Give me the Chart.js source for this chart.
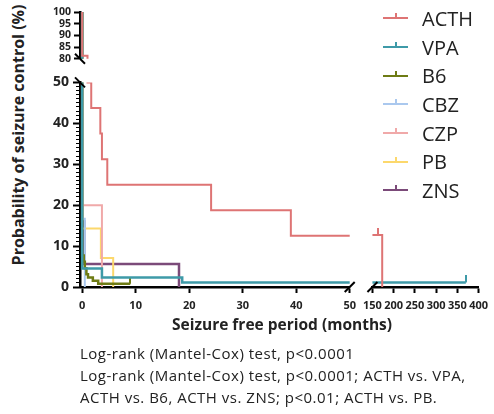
<!DOCTYPE html>
<html>
<head>
<meta charset="utf-8">
<script src="https://cdn.jsdelivr.net/npm/chart.js@4.4.1/dist/chart.umd.min.js"></script>
<style>
  html, body { margin: 0; padding: 0; background: #fff; }
  #wrap { position: relative; width: 494px; height: 414px; overflow: hidden; font-family: "Open Sans", sans-serif; color: #222; }
  #wrap canvas { position: absolute; }
  #chartTop { left: 42px; top: 0; }
  #chartLeft { left: 42px; top: 70px; }
  #chartRight { left: 357px; top: 70px; }
  #yTitle { position: absolute; left: 18px; top: 135px; transform: translate(-50%, -50%) rotate(-90deg); white-space: nowrap; font-weight: bold; font-size: 16px; }
  #xTitle { position: absolute; left: 282px; top: 324px; transform: translate(-50%, -50%); white-space: nowrap; font-weight: bold; font-size: 15.5px; }
  #legend { position: absolute; left: 383px; top: 4px; margin: 0; padding: 0; list-style: none; }
  #legend li { height: 28.7px; display: flex; align-items: center; font-size: 20px; }
  #legend .sym { width: 25px; height: 2px; position: relative; margin-right: 14px; }
  #legend .sym::after { content: ""; position: absolute; left: 12px; top: -4px; width: 1.5px; height: 4px; background: inherit; }
  #note { position: absolute; left: 80px; top: 342px; font-size: 15px; letter-spacing: 0.5px; line-height: 22px; white-space: nowrap; }
</style>
</head>
<body>
<div id="wrap">
  <canvas id="chartTop" width="320" height="68"></canvas>
  <canvas id="chartLeft" width="320" height="260"></canvas>
  <canvas id="chartRight" width="137" height="260"></canvas>
  <div id="yTitle">Probability of seizure control (%)</div>
  <div id="xTitle">Seizure free period (months)</div>
  <ul id="legend"></ul>
  <div id="note">
    Log-rank (Mantel-Cox) test, p&lt;0.0001<br>
    Log-rank (Mantel-Cox) test, p&lt;0.0001; ACTH vs. VPA,<br>
    ACTH vs. B6, ACTH vs. ZNS; p&lt;0.01; ACTH vs. PB.
  </div>
</div>
<script>
"use strict";

/* =========================================================================
  Data (months, % seizure control)
=========================================================================== */
const ACTH_T = [0, 0, 1.0, 1.7, 3.4, 3.7, 4.7, 24.1, 39, 163, 173];
const ACTH_P = [100, 81.25, 50, 43.75, 37.5, 31.25, 25, 18.75, 12.5, 12.5, 0];
const ACTH_CENSOR = [163];

const VPA_T = [0, 0, 3.7, 18.7, 370];
const VPA_P = [100, 4.5, 2.3, 1.1, 1.1];
const VPA_CENSOR = [370];

const B6_T = [0, 0, 0.3, 0.5, 0.8, 1.1, 2.0, 3.0, 9.0];
const B6_P = [100, 7.7, 6.2, 4.6, 3.1, 2.3, 1.5, 0.8, 0.8];
const B6_CENSOR = [9.0];

const CBZ_T = [0, 0, 0.5];
const CBZ_P = [100, 16.7, 0];

const CZP_T = [0, 0, 3.7];
const CZP_P = [100, 20, 0];

const PB_T = [0, 0, 3.5, 5.8];
const PB_P = [100, 14.3, 7.1, 0];

const ZNS_T = [0, 0, 0.4, 18.1];
const ZNS_P = [100, 16.0, 5.6, 0];

const X_TICKS_LEFT = [0, 10, 20, 30, 40, 50];

const SERIES = [
  { name: "ACTH", t: ACTH_T, p: ACTH_P, censor: ACTH_CENSOR, color: "#de7474", width: 2 },
  { name: "VPA", t: VPA_T, p: VPA_P, censor: VPA_CENSOR, color: "#3e9aa8", width: 2.5 },
  { name: "B6", t: B6_T, p: B6_P, censor: B6_CENSOR, color: "#6e7b14", width: 2.5 },
  { name: "CBZ", t: CBZ_T, p: CBZ_P, censor: [], color: "#aac8ee", width: 2 },
  { name: "CZP", t: CZP_T, p: CZP_P, censor: [], color: "#f0a9a9", width: 2 },
  { name: "PB", t: PB_T, p: PB_P, censor: [], color: "#fcd86c", width: 2 },
  { name: "ZNS", t: ZNS_T, p: ZNS_P, censor: [], color: "#7b4a79", width: 2.5 },
];

/* =========================================================================
  Helpers
=========================================================================== */
const FONT = "'Open Sans', sans-serif";
const INK = "#222";

// small upward tick used as censor mark (drawn centred, so top half only)
function censorMark(color) {
  const c = document.createElement("canvas");
  c.width = 2;
  c.height = 14;
  const g = c.getContext("2d");
  g.fillStyle = color;
  g.fillRect(0, 0, 2, 7);
  return c;
}

function makeDatasets() {
  return SERIES.map((s) => ({
    label: s.name,
    data: s.t.map((t, i) => ({ x: t, y: s.p[i] })),
    borderColor: s.color,
    borderWidth: s.width,
    stepped: true,
    fill: false,
    pointStyle: censorMark(s.color),
    pointRadius: (ctx) => (ctx.raw && s.censor.includes(ctx.raw.x) ? 4 : 0),
    pointHoverRadius: 0,
  }));
}

// diagonal "break" strokes at chart-area corners
const breakMarks = {
  id: "breakMarks",
  afterDraw(chart, args, opts) {
    const { ctx, chartArea: a } = chart;
    ctx.save();
    ctx.strokeStyle = "#000";
    ctx.lineWidth = 2;
    (opts.marks || []).forEach((m) => {
      const x = m.at.includes("Left") ? a.left : a.right;
      const y = m.at.includes("top") ? a.top : a.bottom;
      const d = m.dir === "\\" ? 1 : -1;
      ctx.beginPath();
      ctx.moveTo(x - 5, y - 5 * d);
      ctx.lineTo(x + 5, y + 5 * d);
      ctx.stroke();
    });
    ctx.restore();
  },
};

function baseOptions(padding, marks) {
  return {
    responsive: false,
    animation: false,
    layout: { padding },
    plugins: { legend: { display: false }, tooltip: { enabled: false }, breakMarks: { marks } },
    events: [],
  };
}

function tickFont(size) {
  return { family: FONT, size, weight: "bold" };
}

function fixedTicks(values) {
  return (scale) => { scale.ticks = values.map((v) => ({ value: v })); };
}

/* =========================================================================
  Charts
=========================================================================== */
// upper segment: 80-100 %
new Chart(document.getElementById("chartTop"), {
  type: "line",
  data: { datasets: makeDatasets() },
  plugins: [breakMarks],
  options: {
    ...baseOptions({ top: 12, right: 12, left: 0, bottom: 6 }, [{ at: "bottomLeft", dir: "\\" }]),
    scales: {
      x: { type: "linear", min: -0.4, max: 50, display: false },
      y: {
        min: 80, max: 100, z: 1,
        afterFit: (s) => { s.width = 38; },
        ticks: { stepSize: 5, autoSkip: false, font: tickFont(10.5), color: INK, padding: 3 },
        grid: { drawOnChartArea: false, tickLength: 6, tickWidth: 2, tickColor: "#000" },
        border: { width: 2.5, color: "#000" },
      },
    },
  },
});

// lower segment, 0-50 months
new Chart(document.getElementById("chartLeft"), {
  type: "line",
  data: { datasets: makeDatasets() },
  plugins: [breakMarks],
  options: {
    ...baseOptions({ top: 9, right: 12, left: 0, bottom: 0 }, [
      { at: "topLeft", dir: "\\" },
      { at: "bottomRight", dir: "/" },
    ]),
    scales: {
      x: {
        type: "linear", min: -0.4, max: 50,
        afterFit: (s) => { s.height = 43; },
        afterBuildTicks: fixedTicks(X_TICKS_LEFT),
        ticks: { font: tickFont(11), color: INK, padding: 6, maxRotation: 0, autoSkip: false },
        grid: { drawOnChartArea: false, tickLength: 6, tickWidth: 2, tickColor: "#000" },
        border: { width: 2.5, color: "#000" },
      },
      y: {
        min: 0, max: 50, weight: 1, z: 1,
        afterFit: (s) => { s.width = 38; },
        ticks: { stepSize: 10, font: tickFont(14), color: INK, padding: 4 },
        grid: { drawOnChartArea: false, tickLength: 7, tickWidth: 2, tickColor: "#000" },
        border: { width: 2.5, color: "#000" },
      },
      yMinor: {
        min: 0, max: 50, position: "left", weight: 0, z: 1,
        afterFit: (s) => { s.width = 0; },
        ticks: { stepSize: 1, display: false },
        grid: { drawOnChartArea: false, tickLength: 4, tickWidth: 1, tickColor: "#000" },
        border: { display: false },
      },
    },
  },
});

// lower segment, 150-400 months
new Chart(document.getElementById("chartRight"), {
  type: "line",
  data: { datasets: makeDatasets() },
  plugins: [breakMarks],
  options: {
    ...baseOptions({ top: 9, right: 11, left: 10, bottom: 0 }, [{ at: "bottomLeft", dir: "/" }]),
    scales: {
      x: {
        type: "linear", min: 150, max: 400,
        afterFit: (s) => { s.height = 43; },
        ticks: { stepSize: 50, font: tickFont(11), color: INK, padding: 6, maxRotation: 0, autoSkip: false },
        grid: { drawOnChartArea: false, tickLength: 6, tickWidth: 2, tickColor: "#000" },
        border: { width: 2.5, color: "#000" },
      },
      y: { min: 0, max: 50, display: false },
    },
  },
});

/* =========================================================================
  Legend
=========================================================================== */
const legendEl = document.getElementById("legend");
SERIES.forEach((s) => {
  const li = document.createElement("li");
  const sym = document.createElement("span");
  sym.className = "sym";
  sym.style.background = s.color;
  li.appendChild(sym);
  li.appendChild(document.createTextNode(s.name));
  legendEl.appendChild(li);
});
</script>
</body>
</html>
